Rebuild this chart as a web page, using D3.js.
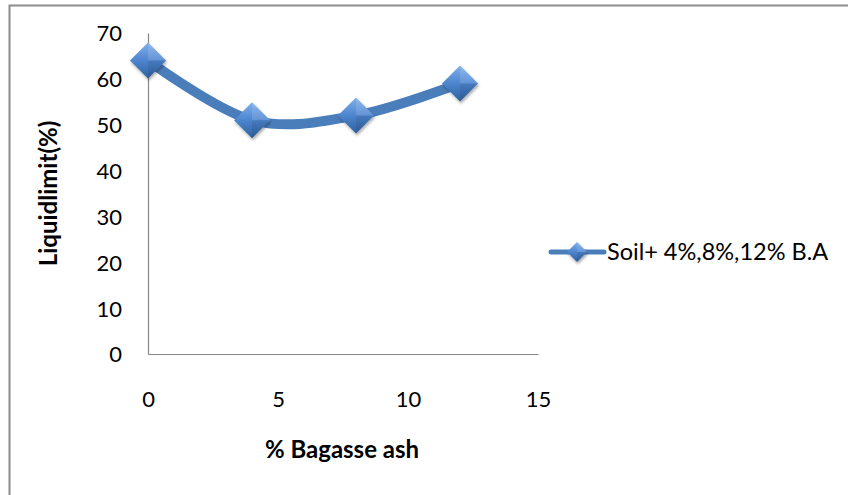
<!DOCTYPE html>
<html><head><meta charset="utf-8">
<script src="https://cdn.jsdelivr.net/npm/d3@7"></script>
<style>body{margin:0;background:#fff}svg{display:block}</style>
</head><body>
<svg id="c" width="848" height="495"></svg>
<script>
const xValues = [0, 4, 8, 12];
const yValues = [64, 51, 52, 59];
const seriesName = "Soil+ 4%,8%,12% B.A";
const xTicks = [0, 5, 10, 15];
const yTicks = [0, 10, 20, 30, 40, 50, 60, 70];
const xTitle = "% Bagasse ash";
const yTitle = "Liquidlimit(%)";

const svg = d3.select("#c");
const font = "Lato, 'Open Sans', sans-serif";

// border
svg.append("rect").attr("x", 9.5).attr("y", 5.5).attr("width", 860).attr("height", 500)
  .attr("fill", "none").attr("stroke", "#8c8c8c").attr("stroke-width", 2);

const x = d3.scaleLinear().domain([0, 15]).range([148, 538]);
const y = d3.scaleLinear().domain([0, 70]).range([354, 33]);

const defs = svg.append("defs");
const g1 = defs.append("linearGradient").attr("id", "dg").attr("x1", "0").attr("y1", "0").attr("x2", "0").attr("y2", "1");
g1.append("stop").attr("offset", "0").attr("stop-color", "#7fb0ec");
g1.append("stop").attr("offset", "0.5").attr("stop-color", "#4d85cf");
g1.append("stop").attr("offset", "1").attr("stop-color", "#2f609e");
const f = defs.append("filter").attr("id", "sh").attr("x", "-50%").attr("y", "-50%").attr("width", "200%").attr("height", "200%");
f.append("feDropShadow").attr("dx", 1).attr("dy", 2).attr("stdDeviation", 1.5).attr("flood-color", "#000").attr("flood-opacity", 0.35);

// axes
const yAxis = d3.axisLeft(y).tickValues(yTicks).tickSize(0).tickPadding(26);
const ya = svg.append("g").attr("transform", `translate(${x(0)},0)`).call(yAxis);
ya.select(".domain").attr("stroke", "#868686").attr("stroke-width", 1.2);
ya.selectAll("text").attr("font-family", font).attr("font-size", 22).attr("fill", "#000").attr("dy", "0.36em");

const xAxis = d3.axisBottom(x).tickValues(xTicks).tickSize(0);
const xa = svg.append("g").attr("transform", `translate(0,${y(0)})`).call(xAxis);
xa.select(".domain").attr("stroke", "#868686").attr("stroke-width", 1.2);
xa.selectAll("text").attr("font-family", font).attr("font-size", 22).attr("fill", "#000")
  .attr("y", 53).attr("dy", 0);

// titles
svg.append("text").attr("x", 342).attr("y", 458).attr("text-anchor", "middle")
  .attr("font-family", font).attr("font-weight", "bold").attr("font-size", 24).text(xTitle);
svg.append("text").attr("transform", `translate(57,${y(35)}) rotate(-90)`).attr("text-anchor", "middle")
  .attr("font-family", font).attr("font-weight", "bold").attr("font-size", 24).text(yTitle);

// line
const data = xValues.map((v, i) => ({x: v, y: yValues[i]}));
const line = d3.line().x(d => x(d.x)).y(d => y(d.y)).curve(d3.curveCardinal.tension(0));
svg.append("path").datum(data).attr("d", line).attr("fill", "none")
  .attr("stroke", "#4a7ebb").attr("stroke-width", 10).attr("stroke-linecap", "round");

function diamond(sel, cx, cy, r) {
  const gg = sel.append("g").attr("transform", `translate(${cx},${cy})`).attr("filter", "url(#sh)");
  gg.append("path").attr("d", `M0,${-r}L${r},0L0,${r}L${-r},0Z`).attr("fill", "url(#dg)");
  gg.append("path").attr("d", `M0,${-r}L${r},0L0,0Z`).attr("fill", "#ffffff").attr("opacity", 0.12);
  gg.append("path").attr("d", `M0,${r}L${r},0L0,0Z`).attr("fill", "#000").attr("opacity", 0.08);
}
data.forEach(d => diamond(svg, x(d.x), y(d.y), 18));

// legend
const lg = svg.append("g");
lg.append("line").attr("x1", 551).attr("x2", 604).attr("y1", 252).attr("y2", 252)
  .attr("stroke", "#4a7ebb").attr("stroke-width", 5).attr("stroke-linecap", "round");
diamond(lg, 577, 252, 10);
lg.append("text").attr("x", 607).attr("y", 260).attr("font-family", font).attr("font-size", 23.5)
  .attr("fill", "#000").text(seriesName);
</script>
</body></html>
